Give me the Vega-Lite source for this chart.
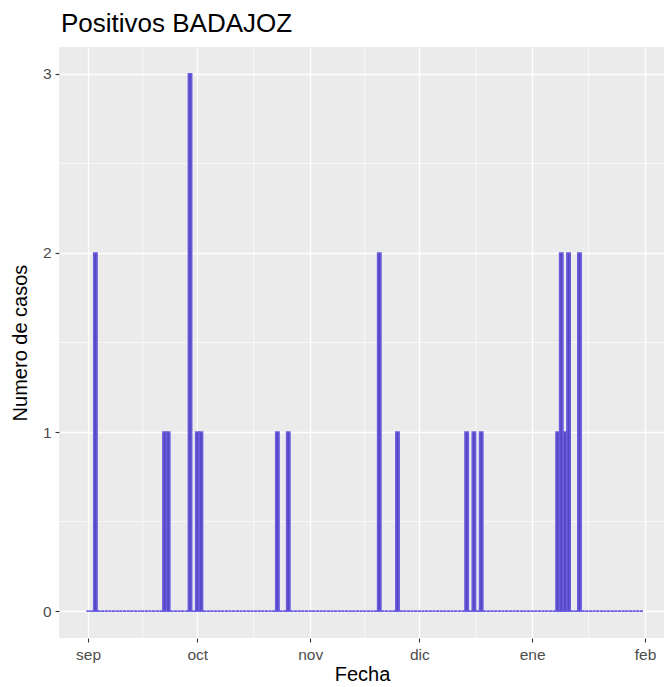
{
  "$schema": "https://vega.github.io/schema/vega-lite/v6.json",
  "autosize": "none",
  "width": 606,
  "height": 591,
  "padding": {"left": 59, "top": 47, "right": 0, "bottom": 49},
  "title": {"text": "Positivos BADAJOZ", "anchor": "start", "frame": "group", "font": "Liberation Sans", "fontSize": 26, "fontWeight": "normal", "color": "#000000", "offset": 10, "dx": 2},
  "config": {
    "view": {"fill": "#ebebeb", "stroke": null},
    "font": "Liberation Sans",
    "axis": {
      "grid": true, "gridColor": "#ffffff", "gridWidth": 1.3,
      "domain": false,
      "tickColor": "#333333", "tickSize": 4, "tickWidth": 1.1,
      "labelColor": "#4d4d4d", "labelFontSize": 15.5, "labelFont": "Liberation Sans",
      "titleFont": "Liberation Sans", "titleFontSize": 20, "titleFontWeight": "normal", "titleColor": "#000000"
    }
  },
  "datasets": {
    "casos": [
      {"d":"2020/09/01","n":0},{"d":"2020/09/02","n":0},{"d":"2020/09/03","n":2},{"d":"2020/09/04","n":0},{"d":"2020/09/05","n":0},{"d":"2020/09/06","n":0},{"d":"2020/09/07","n":0},{"d":"2020/09/08","n":0},{"d":"2020/09/09","n":0},{"d":"2020/09/10","n":0},
      {"d":"2020/09/11","n":0},{"d":"2020/09/12","n":0},{"d":"2020/09/13","n":0},{"d":"2020/09/14","n":0},{"d":"2020/09/15","n":0},{"d":"2020/09/16","n":0},{"d":"2020/09/17","n":0},{"d":"2020/09/18","n":0},{"d":"2020/09/19","n":0},{"d":"2020/09/20","n":0},
      {"d":"2020/09/21","n":0},{"d":"2020/09/22","n":1},{"d":"2020/09/23","n":1},{"d":"2020/09/24","n":0},{"d":"2020/09/25","n":0},{"d":"2020/09/26","n":0},{"d":"2020/09/27","n":0},{"d":"2020/09/28","n":0},{"d":"2020/09/29","n":3},{"d":"2020/09/30","n":0},
      {"d":"2020/10/01","n":1},{"d":"2020/10/02","n":1},{"d":"2020/10/03","n":0},{"d":"2020/10/04","n":0},{"d":"2020/10/05","n":0},{"d":"2020/10/06","n":0},{"d":"2020/10/07","n":0},{"d":"2020/10/08","n":0},{"d":"2020/10/09","n":0},{"d":"2020/10/10","n":0},
      {"d":"2020/10/11","n":0},{"d":"2020/10/12","n":0},{"d":"2020/10/13","n":0},{"d":"2020/10/14","n":0},{"d":"2020/10/15","n":0},{"d":"2020/10/16","n":0},{"d":"2020/10/17","n":0},{"d":"2020/10/18","n":0},{"d":"2020/10/19","n":0},{"d":"2020/10/20","n":0},
      {"d":"2020/10/21","n":0},{"d":"2020/10/22","n":0},{"d":"2020/10/23","n":1},{"d":"2020/10/24","n":0},{"d":"2020/10/25","n":0},{"d":"2020/10/26","n":1},{"d":"2020/10/27","n":0},{"d":"2020/10/28","n":0},{"d":"2020/10/29","n":0},{"d":"2020/10/30","n":0},{"d":"2020/10/31","n":0},
      {"d":"2020/11/01","n":0},{"d":"2020/11/02","n":0},{"d":"2020/11/03","n":0},{"d":"2020/11/04","n":0},{"d":"2020/11/05","n":0},{"d":"2020/11/06","n":0},{"d":"2020/11/07","n":0},{"d":"2020/11/08","n":0},{"d":"2020/11/09","n":0},{"d":"2020/11/10","n":0},
      {"d":"2020/11/11","n":0},{"d":"2020/11/12","n":0},{"d":"2020/11/13","n":0},{"d":"2020/11/14","n":0},{"d":"2020/11/15","n":0},{"d":"2020/11/16","n":0},{"d":"2020/11/17","n":0},{"d":"2020/11/18","n":0},{"d":"2020/11/19","n":0},{"d":"2020/11/20","n":2},
      {"d":"2020/11/21","n":0},{"d":"2020/11/22","n":0},{"d":"2020/11/23","n":0},{"d":"2020/11/24","n":0},{"d":"2020/11/25","n":1},{"d":"2020/11/26","n":0},{"d":"2020/11/27","n":0},{"d":"2020/11/28","n":0},{"d":"2020/11/29","n":0},{"d":"2020/11/30","n":0},
      {"d":"2020/12/01","n":0},{"d":"2020/12/02","n":0},{"d":"2020/12/03","n":0},{"d":"2020/12/04","n":0},{"d":"2020/12/05","n":0},{"d":"2020/12/06","n":0},{"d":"2020/12/07","n":0},{"d":"2020/12/08","n":0},{"d":"2020/12/09","n":0},{"d":"2020/12/10","n":0},
      {"d":"2020/12/11","n":0},{"d":"2020/12/12","n":0},{"d":"2020/12/13","n":0},{"d":"2020/12/14","n":1},{"d":"2020/12/15","n":0},{"d":"2020/12/16","n":1},{"d":"2020/12/17","n":0},{"d":"2020/12/18","n":1},{"d":"2020/12/19","n":0},{"d":"2020/12/20","n":0},
      {"d":"2020/12/21","n":0},{"d":"2020/12/22","n":0},{"d":"2020/12/23","n":0},{"d":"2020/12/24","n":0},{"d":"2020/12/25","n":0},{"d":"2020/12/26","n":0},{"d":"2020/12/27","n":0},{"d":"2020/12/28","n":0},{"d":"2020/12/29","n":0},{"d":"2020/12/30","n":0},{"d":"2020/12/31","n":0},
      {"d":"2021/01/01","n":0},{"d":"2021/01/02","n":0},{"d":"2021/01/03","n":0},{"d":"2021/01/04","n":0},{"d":"2021/01/05","n":0},{"d":"2021/01/06","n":0},{"d":"2021/01/07","n":0},{"d":"2021/01/08","n":1},{"d":"2021/01/09","n":2},{"d":"2021/01/10","n":1},
      {"d":"2021/01/11","n":2},{"d":"2021/01/12","n":0},{"d":"2021/01/13","n":0},{"d":"2021/01/14","n":2},{"d":"2021/01/15","n":0},{"d":"2021/01/16","n":0},{"d":"2021/01/17","n":0},{"d":"2021/01/18","n":0},{"d":"2021/01/19","n":0},{"d":"2021/01/20","n":0},
      {"d":"2021/01/21","n":0},{"d":"2021/01/22","n":0},{"d":"2021/01/23","n":0},{"d":"2021/01/24","n":0},{"d":"2021/01/25","n":0},{"d":"2021/01/26","n":0},{"d":"2021/01/27","n":0},{"d":"2021/01/28","n":0},{"d":"2021/01/29","n":0},{"d":"2021/01/30","n":0},{"d":"2021/01/31","n":0}
    ],
    "minorX": [
      {"d":"2020/09/16 00:00"},{"d":"2020/10/16 12:00"},{"d":"2020/11/16 00:00"},{"d":"2020/12/16 12:00"},{"d":"2021/01/16 12:00"}
    ],
    "minorY": [{"n":0.5},{"n":1.5},{"n":2.5}]
  },
  "layer": [
    {
      "data": {"name": "minorX"},
      "mark": {"type": "rule", "color": "#ffffff", "strokeWidth": 0.65},
      "encoding": {
        "x": {
          "field": "d", "type": "temporal",
          "scale": {"domain": [{"year": 2020, "month": 8, "date": 24}, {"year": 2021, "month": 2, "date": 6, "hours": 12}], "padding": 0},
          "axis": {
            "title": "Fecha",
            "tickCount": {"interval": "month", "step": 1},
            "labelExpr": "['ene','feb','mar','abr','may','jun','jul','ago','sep','oct','nov','dic'][month(datum.value)]",
            "labelPadding": 5, "titlePadding": 2
          }
        }
      }
    },
    {
      "data": {"name": "minorY"},
      "mark": {"type": "rule", "color": "#ffffff", "strokeWidth": 0.65},
      "encoding": {
        "y": {
          "field": "n", "type": "quantitative",
          "scale": {"domain": [-0.15, 3.15], "nice": false, "zero": false, "padding": 0},
          "axis": {"title": "Numero de casos", "values": [0, 1, 2, 3], "format": "d", "labelPadding": 4, "titlePadding": 12}
        }
      }
    },
    {
      "data": {"name": "casos"},
      "mark": {"type": "bar", "size": 3.3, "fill": "#5546c0", "stroke": "#6b5ce0", "strokeWidth": 1.6, "clip": true},
      "encoding": {
        "x": {
          "field": "d", "type": "temporal",
          "scale": {"domain": [{"year": 2020, "month": 8, "date": 24}, {"year": 2021, "month": 2, "date": 6, "hours": 12}], "padding": 0},
          "axis": {
            "title": "Fecha",
            "tickCount": {"interval": "month", "step": 1},
            "labelExpr": "['ene','feb','mar','abr','may','jun','jul','ago','sep','oct','nov','dic'][month(datum.value)]",
            "labelPadding": 5, "titlePadding": 2
          }
        },
        "y": {
          "field": "n", "type": "quantitative",
          "scale": {"domain": [-0.15, 3.15], "nice": false, "zero": false, "padding": 0},
          "axis": {"title": "Numero de casos", "values": [0, 1, 2, 3], "format": "d", "labelPadding": 4, "titlePadding": 12}
        }
      }
    }
  ]
}
